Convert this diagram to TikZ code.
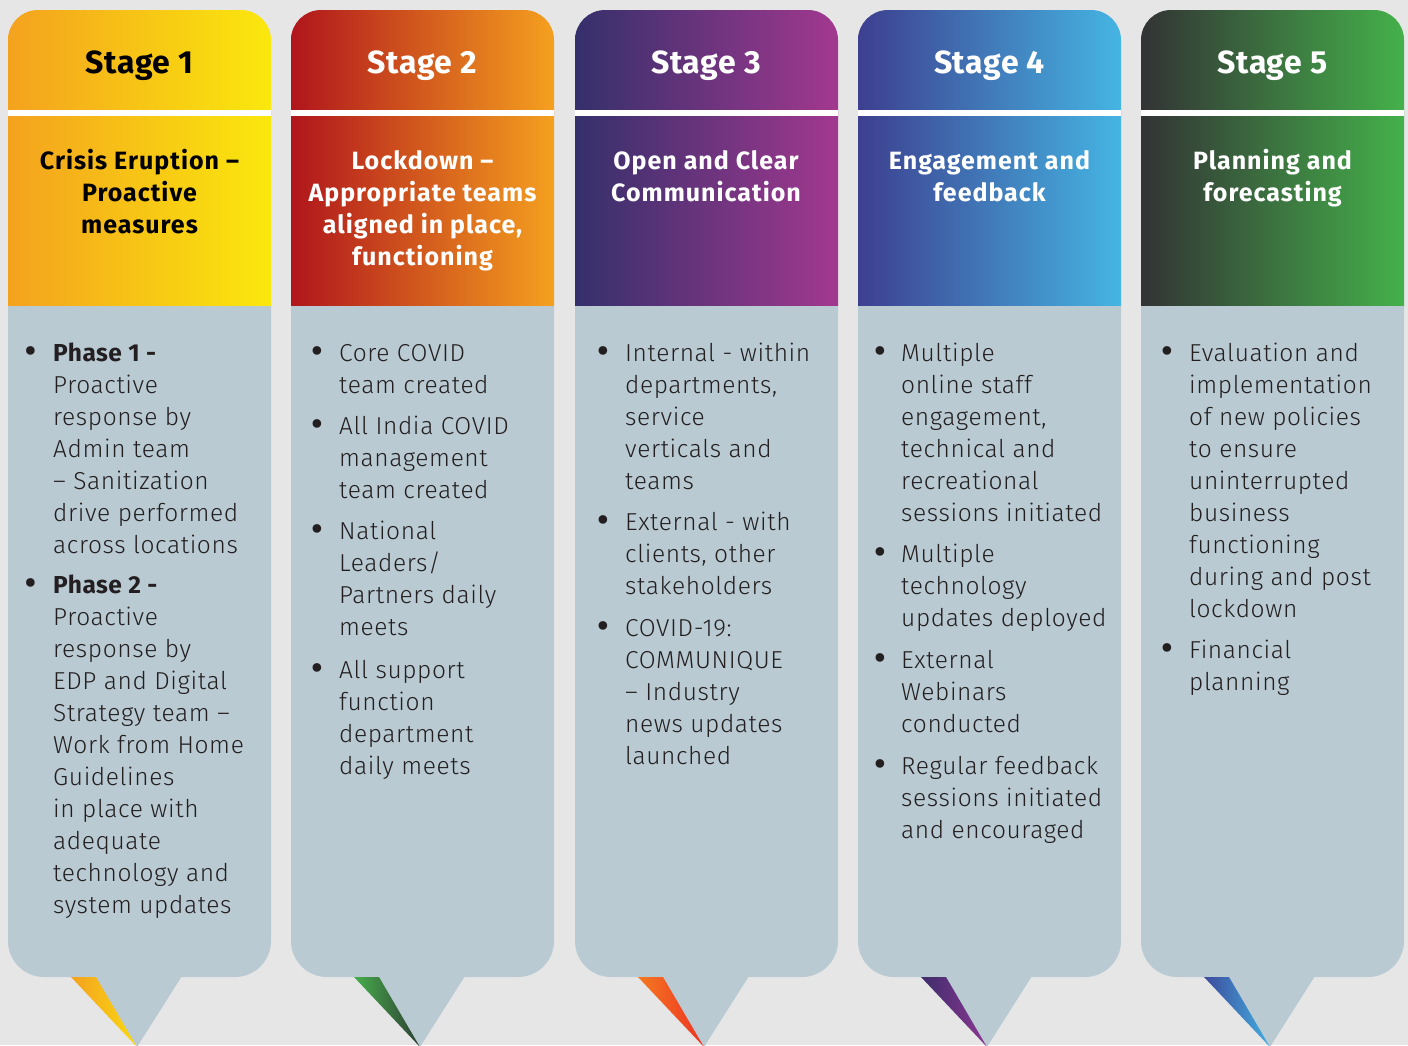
\documentclass[tikz,border=0pt]{standalone}
\usepackage{fontspec}
\setmainfont{Fira Sans}
\IfFontExistsTF{Fira Sans Light}{\newfontfamily\bodyfont{Fira Sans Light}[LetterSpace=2.5]}{\newfontfamily\bodyfont{Fira Sans}[LetterSpace=2.5]}
\definecolor{bg}{HTML}{E6E6E6}
\definecolor{panel}{HTML}{B9CAD3}
\definecolor{txt}{HTML}{231F20}
\definecolor{aL}{HTML}{F4A21E}\definecolor{aR}{HTML}{FAE80D}
\definecolor{bL}{HTML}{B0151C}\definecolor{bR}{HTML}{F5A01F}
\definecolor{cL}{HTML}{35306B}\definecolor{cR}{HTML}{A2388F}
\definecolor{dL}{HTML}{3D3F8F}\definecolor{dR}{HTML}{45B5E3}
\definecolor{eL}{HTML}{333335}\definecolor{eR}{HTML}{44B14A}
\definecolor{pa1}{HTML}{F4A11F}\definecolor{pa2}{HTML}{F9D912}
\definecolor{pb1}{HTML}{47AE4D}\definecolor{pb2}{HTML}{2E3F33}
\definecolor{pc1}{HTML}{F47A20}\definecolor{pc2}{HTML}{EE3224}
\definecolor{pd1}{HTML}{3E2D6B}\definecolor{pd2}{HTML}{8B3792}
\definecolor{pe1}{HTML}{3D4B9D}\definecolor{pe2}{HTML}{43AEE0}
\newcommand\bsz{\fontsize{24.5}{32}\selectfont}
\newcommand\itm[1]{\parbox[t]{240pt}{\raggedright\bodyfont\bsz #1}}
\newcommand\subt[1]{\parbox[t]{258pt}{\centering\bfseries\fontsize{25}{32}\selectfont\addfontfeature{LetterSpace=4}#1}}
\newcommand\bld[1]{{\normalfont\bfseries\addfontfeature{LetterSpace=2}#1}}
\begin{document}
\begin{tikzpicture}[x=1pt,y=-1pt,
  ttl/.style={anchor=base,inner sep=0pt,font=\bfseries\fontsize{32}{38}\selectfont\addfontfeature{LetterSpace=2}},
  sub/.style={anchor=base,inner sep=0pt},
  itmnode/.style={anchor=base west,inner sep=0pt,text=txt},
  bul/.style={anchor=base,inner sep=0pt,text=txt,font=\bfseries\fontsize{31}{32}\selectfont}]
\fill[bg] (0,0) rectangle (1408,1045);
\useasboundingbox (0,0) rectangle (1408,1045);
\foreach \L/\cl/\cr/\pl/\pr in {8/aL/aR/pa1/pa2, 291/bL/bR/pb1/pb2, 575/cL/cR/pc1/pc2, 858/dL/dR/pd1/pd2, 1141/eL/eR/pe1/pe2}{
  \shade[left color=\cl, right color=\cr] (\L,306) -- (\L,40) arc[start angle=180,end angle=270,radius=30] -- (\L+233,10) arc[start angle=270,end angle=360,radius=30] -- (\L+263,306) -- cycle;
  \fill[white] (\L,110) rectangle (\L+263,116);
  \fill[panel] (\L,306) -- (\L,941) arc[start angle=180,end angle=90,radius=36] -- (\L+227,977) arc[start angle=90,end angle=0,radius=36] -- (\L+263,306) -- cycle;
  \fill[panel] (\L+87,976) -- (\L+174,976) -- (\L+129,1047) -- cycle;
  \shade[left color=\pl, right color=\pr] (\L+63,977) -- (\L+88,977) -- (\L+129,1047) -- cycle;
}
% titles
\node[ttl,text=black] (s1t) at (139.5,73) {Stage 1};
\node[ttl,text=white] (s2t) at (422.5,73) {Stage 2};
\node[ttl,text=white] (s3t) at (706,73) {Stage 3};
\node[ttl,text=white] (s4t) at (989.5,73) {Stage 4};
\node[ttl,text=white] (s5t) at (1272.5,73) {Stage 5};
% subtitles
\node[sub,text=black] (s1s) at (139.5,169) {\subt{Crisis Eruption –\\Proactive\\measures}};
\node[sub,text=white] (s2s) at (422.5,169) {\subt{Lockdown –\\Appropriate teams\\aligned in place,\\functioning}};
\node[sub,text=white] (s3s) at (706,169) {\subt{Open and Clear\\Communication}};
\node[sub,text=white] (s4s) at (989.5,169) {\subt{Engagement and\\feedback}};
\node[sub,text=white] (s5s) at (1272.5,169) {\subt{Planning and\\forecasting}};
% column 1
\node[bul] (c1ab) at (30.5,361) {•};
\node[itmnode] (c1a) at (53,361) {\itm{\bld{Phase 1 -}\\Proactive\\response by\\Admin team\\– Sanitization\\drive performed\\across locations}};
\node[bul] (c1bb) at (30.5,593) {•};
\node[itmnode] (c1b) at (53,593) {\itm{\bld{Phase 2 -}\\Proactive\\response by\\EDP and Digital\\Strategy team –\\Work from Home\\Guidelines\\in place with\\adequate\\technology and\\system updates}};
% column 2
\node[bul] (c2ab) at (317,361) {•};
\node[itmnode] (c2a) at (339,361) {\itm{Core COVID\\team created}};
\node[bul] (c2bb) at (317,434) {•};
\node[itmnode] (c2b) at (339,434) {\itm{All India COVID\\management\\team created}};
\node[bul] (c2cb) at (317,539) {•};
\node[itmnode] (c2c) at (339,539) {\itm{National\\Leaders/\\Partners daily\\meets}};
\node[bul] (c2db) at (317,678) {•};
\node[itmnode] (c2d) at (339,678) {\itm{All support\\function\\department\\daily meets}};
% column 3
\node[bul] (c3ab) at (603,361) {•};
\node[itmnode] (c3a) at (625,361) {\itm{Internal - within\\departments,\\service\\verticals and\\teams}};
\node[bul] (c3bb) at (603,530) {•};
\node[itmnode] (c3b) at (625,530) {\itm{External - with\\clients, other\\stakeholders}};
\node[bul] (c3cb) at (603,636) {•};
\node[itmnode] (c3c) at (625,636) {\itm{COVID-19:\\COMMUNIQUE\\– Industry\\news updates\\launched}};
% column 4
\node[bul] (c4ab) at (880,361) {•};
\node[itmnode] (c4a) at (901,361) {\itm{Multiple\\online staff\\engagement,\\technical and\\recreational\\sessions initiated}};
\node[bul] (c4bb) at (880,562) {•};
\node[itmnode] (c4b) at (901,562) {\itm{Multiple\\technology\\updates deployed}};
\node[bul] (c4cb) at (880,668) {•};
\node[itmnode] (c4c) at (901,668) {\itm{External\\Webinars\\conducted}};
\node[bul] (c4db) at (880,774) {•};
\node[itmnode] (c4d) at (901,774) {\itm{Regular feedback\\sessions initiated\\and encouraged}};
% column 5
\node[bul] (c5ab) at (1167,361) {•};
\node[itmnode] (c5a) at (1189,361) {\itm{Evaluation and\\implementation\\of new policies\\to ensure\\uninterrupted\\business\\functioning\\during and post\\lockdown}};
\node[bul] (c5bb) at (1167,658) {•};
\node[itmnode] (c5b) at (1189,658) {\itm{Financial\\planning}};
\end{tikzpicture}
\end{document}
